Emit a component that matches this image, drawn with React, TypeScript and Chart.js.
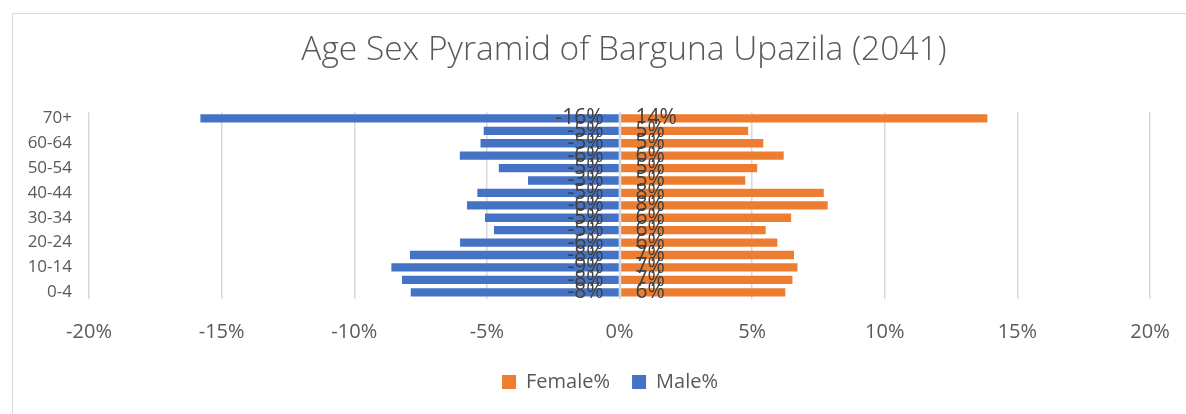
import React, { useEffect, useRef } from "react";
import { Chart, registerables } from "chart.js";

Chart.register(...registerables);

const ageGroups = [
  "0-4", "5-9", "10-14", "15-19", "20-24", "25-29", "30-34", "35-39",
  "40-44", "45-49", "50-54", "55-59", "60-64", "65-69", "70+",
];
const femalePct = [6.25, 6.52, 6.71, 6.58, 5.95, 5.51, 6.47, 7.85, 7.7, 4.74, 5.19, 6.19, 5.42, 4.85, 13.87];
const malePct = [-7.87, -8.2, -8.6, -7.9, -6.01, -4.73, -5.07, -5.75, -5.36, -3.45, -4.55, -6.02, -5.24, -5.12, -15.8];
const xMin = -20;
const xMax = 20;
const xStep = 5;

const FONT = "'Open Sans', sans-serif";
const TEXT = "#595959";
const GRID = "#d9d9d9";

const fmtPct = (v: number) => {
  const r = Math.sign(v) * Math.round(Math.abs(v));
  return `${r === 0 ? 0 : r}%`;
};

const shiftPlugin = {
  id: "shiftBoxes",
  afterLayout(chart: any) {
    const t = chart.titleBlock;
    if (t) {
      const c = (t.left + t.right) / 2;
      const d = 624 - c;
      t.left += d;
      t.right += d;
    }
    const l = chart.legend;
    if (l) {
      const c = (l.left + l.right) / 2;
      const d = 610 - c;
      l.left += d;
      l.right += d;
    }
  },
};

const labelPlugin = {
  id: "pyramidLabels",
  afterDatasetsDraw(chart: any) {
    const ctx = chart.ctx;
    const xs = chart.scales.x;
    const area = chart.chartArea;
    const zero = xs.getPixelForValue(0);
    ctx.save();
    ctx.strokeStyle = GRID;
    ctx.lineWidth = 1.5;
    ctx.beginPath();
    ctx.moveTo(Math.round(zero) + 0.5, area.top);
    ctx.lineTo(Math.round(zero) + 0.5, area.bottom);
    ctx.stroke();
    ctx.font = `21px ${FONT}`;
    ctx.fillStyle = "#404040";
    ctx.textBaseline = "middle";
    chart.data.datasets.forEach((ds: any, di: number) => {
      const meta = chart.getDatasetMeta(di);
      meta.data.forEach((el: any, i: number) => {
        const v = ds.data[i];
        if (v < 0) {
          ctx.textAlign = "right";
          ctx.fillText(fmtPct(v), zero - 16, el.y);
        } else {
          ctx.textAlign = "left";
          ctx.fillText(fmtPct(v), zero + 16, el.y);
        }
      });
    });
    ctx.restore();
  },
};

export default function App() {
  const ref = useRef<HTMLCanvasElement | null>(null);
  useEffect(() => {
    if (!ref.current) return;
    const chart = new Chart(ref.current, {
      type: "bar",
      data: {
        labels: ageGroups,
        datasets: [
          {
            label: "Female%",
            data: femalePct,
            backgroundColor: "#ED7D31",
            borderWidth: 0,
            barPercentage: 0.67,
            categoryPercentage: 1,
          },
          {
            label: "Male%",
            data: malePct,
            backgroundColor: "#4472C4",
            borderWidth: 0,
            barPercentage: 0.67,
            categoryPercentage: 1,
          },
        ],
      },
      options: {
        indexAxis: "y",
        animation: false,
        responsive: false,
        maintainAspectRatio: false,
        layout: { padding: { left: 12, right: 36, top: 0, bottom: 12 } },
        scales: {
          x: {
            stacked: true,
            min: xMin,
            max: xMax,
            ticks: {
              stepSize: xStep,
              callback: (v: any) => `${v}%`,
              color: TEXT,
              font: { family: FONT, size: 20 },
              padding: 22,
              maxRotation: 0,
            },
            grid: { color: GRID, lineWidth: 1.5, drawTicks: false },
            border: { display: false },
            afterFit: (s: any) => {
              s.height = 51.5;
              s.paddingLeft = 0;
              s.paddingRight = 0;
            },
          },
          y: {
            stacked: true,
            reverse: true,
            ticks: {
              autoSkip: false,
              callback: (_v: any, i: number) => (i % 2 === 0 ? ageGroups[i] : ""),
              color: TEXT,
              font: { family: FONT, size: 17 },
              padding: 17,
            },
            grid: { display: false, drawTicks: false },
            border: { display: false },
            afterFit: (s: any) => {
              s.width = 77;
            },
          },
        },
        plugins: {
          title: {
            display: true,
            text: "Age Sex Pyramid of Barguna Upazila (2041)",
            color: TEXT,
            font: { family: FONT, size: 33.5, weight: 300 as any },
            padding: { top: 30, bottom: 42 },
          },
          legend: {
            position: "bottom",
            labels: {
              boxWidth: 14,
              boxHeight: 14,
              padding: 22,
              color: TEXT,
              font: { family: FONT, size: 20 },
            },
          },
          tooltip: { enabled: false },
        },
      },
      plugins: [shiftPlugin, labelPlugin],
    });
    return () => chart.destroy();
  }, []);
  return (
    <div
      style={{
        position: "fixed",
        left: 0,
        top: 0,
        width: 1186,
        height: 414,
        overflow: "hidden",
        background: "#fff",
      }}
    >
      <div
        style={{
          position: "absolute",
          left: 12,
          top: 13,
          width: 1300,
          height: 500,
          border: `1px solid ${GRID}`,
        }}
      />
      <canvas
        ref={ref}
        width={1186}
        height={414}
        style={{ position: "absolute", left: 0, top: 0, width: 1186, height: 414 }}
      />
    </div>
  );
}
